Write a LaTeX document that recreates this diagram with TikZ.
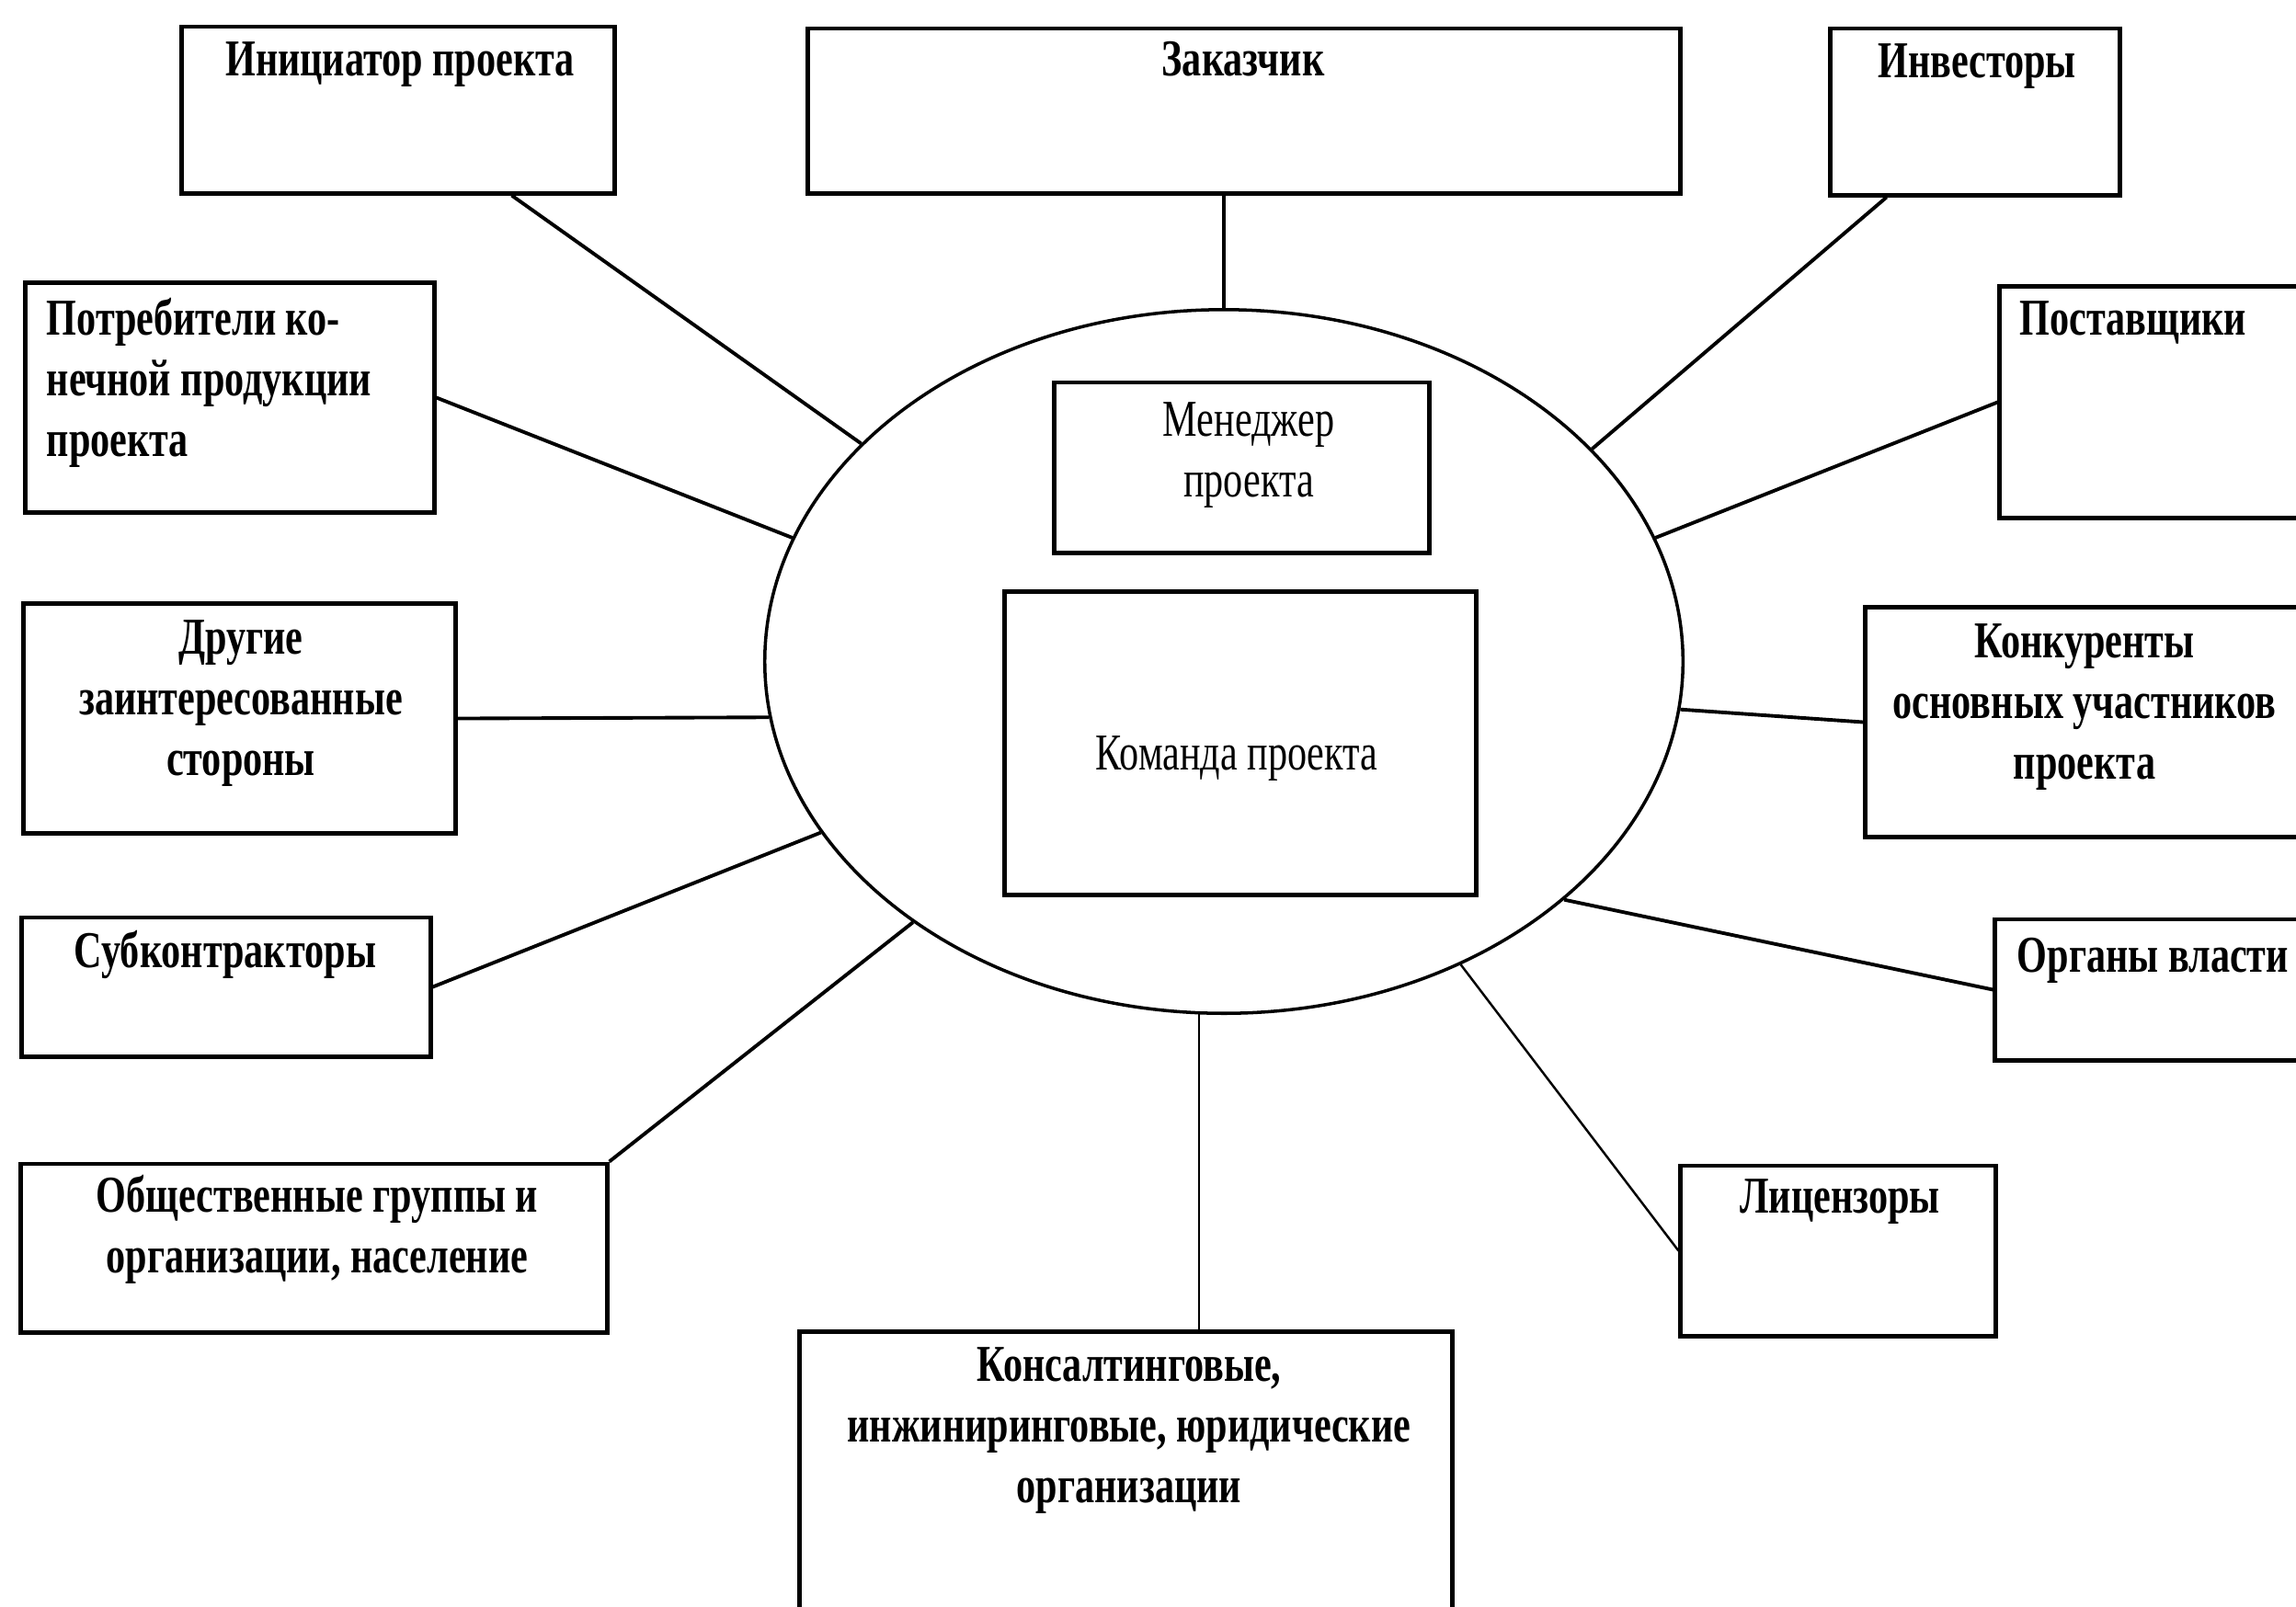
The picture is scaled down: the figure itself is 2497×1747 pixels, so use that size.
\documentclass[tikz,border=0pt]{standalone}
\usepackage{fontspec}
\setmainfont{Liberation Serif}[FakeStretch=0.75]
\usetikzlibrary{shapes.geometric, positioning}

\begin{document}
\begin{tikzpicture}[x=0.01cm, y=-0.01cm]
	\tikzstyle{party} = [draw, rectangle, line width=1.4pt, inner sep=0pt]
	\tikzstyle{txt} = [inner sep=0pt, align=center, font=\fontsize{16}{18.7}\selectfont\bfseries]
	\tikzstyle{plaintxt} = [inner sep=0pt, align=center, font=\fontsize{16}{18.7}\selectfont]
	\tikzstyle{link} = [line width=1.1pt]
	\tikzstyle{faint} = [line width=0.7pt]
	\useasboundingbox (0,0) rectangle (2497,1747);
	\clip (0,0) rectangle (2497,1747);

	\node (ell) [draw, ellipse, line width=1pt, inner sep=0pt, minimum width=9.98cm, minimum height=7.65cm] at (1331,719.5) {};
	\node (men) [party, minimum width=4.07cm, minimum height=1.85cm] at (1350.5,508.5) {};
	\node (kom) [party, minimum width=5.12cm, minimum height=3.29cm] at (1349,808.5) {};

	\node (init) [party, minimum width=4.70cm, minimum height=1.81cm] at (433,119.5) {};
	\node (zak) [party, minimum width=9.48cm, minimum height=1.79cm] at (1353,120.5) {};
	\node (inv) [party, minimum width=3.14cm, minimum height=1.81cm] at (2148,121.5) {};
	\node (post) [party, minimum width=3.45cm, minimum height=2.51cm] at (2347.5,437.5) {};
	\node (potr) [party, minimum width=4.44cm, minimum height=2.49cm] at (250,432.5) {};
	\node (drug) [party, minimum width=4.69cm, minimum height=2.49cm] at (260.5,781.5) {};
	\node (sub) [party, minimum width=4.44cm, minimum height=1.51cm] at (246,1073.5) {};
	\node (obsh) [party, minimum width=6.37cm, minimum height=1.83cm] at (341.5,1357.5) {};
	\node (kons) [party, minimum width=7.09cm, minimum height=3.51cm] at (1224.5,1624.5) {};
	\node (lic) [party, minimum width=3.42cm, minimum height=1.85cm] at (1999,1360.5) {};
	\node (org) [party, minimum width=3.50cm, minimum height=1.53cm] at (2345,1076.5) {};
	\node (konk) [party, minimum width=4.76cm, minimum height=2.49cm] at (2267,785.5) {};

	\node (menT) [plaintxt, anchor=base] at (1358,540) {Менеджер\\проекта};
	\node (komT) [plaintxt, anchor=base] at (1345,837) {Команда проекта};
	\node (initT) [txt, anchor=base] at (435,82) {Инициатор проекта};
	\node (zakT) [txt, anchor=base] at (1352,82) {Заказчик};
	\node (invT) [txt, anchor=base] at (2150,84) {Инвесторы};
	\node (postT) [txt, anchor=base west, align=left] at (2196,364) {Поставщики};
	\node (potrT) [txt, anchor=base west, align=left] at (50,496) {Потребители ко-\\нечной продукции\\проекта};
	\node (drugT) [txt, anchor=base] at (262,843) {Другие\\заинтересованные\\стороны};
	\node (subT) [txt, anchor=base] at (245,1052) {Субконтракторы};
	\node (obshT) [txt, anchor=base] at (345,1384) {Общественные группы и\\организации, население};
	\node (konsT) [txt, anchor=base] at (1228,1634) {Консалтинговые,\\инжиниринговые, юридические\\организации};
	\node (licT) [txt, anchor=base] at (2001,1319.5) {Лицензоры};
	\node (orgT) [txt, anchor=base west, align=left] at (2193,1057) {Органы власти};
	\node (konkT) [txt, anchor=base] at (2267,847) {Конкуренты\\основных участников\\проекта};

	\draw[link] (init.323) -- (ell.149);
	\draw[link] (ell.north) -- (ell.north |- zak.south);
	\draw[link] (inv.224.5) -- (ell.30.25);
	\draw[link] (post.west) -- (ell.16.15);
	\draw[link] (potr.east) -- (ell.164.67);
	\draw[link] (drug.east) -- (ell.187.5);
	\draw[link] (sub.east) -- (ell.203.2);
	\draw[link] (obsh.north east) -- (ell.220.9);
	\draw[faint] (ell.266) -- (ell.266 |- kons.north);
	\draw[faint] (lic.west) -- (ell.308.6);
	\draw[link] (org.west) -- (ell.325.9);
	\draw[link] (konk.west) -- (ell.354.4);
\end{tikzpicture}
\end{document}
